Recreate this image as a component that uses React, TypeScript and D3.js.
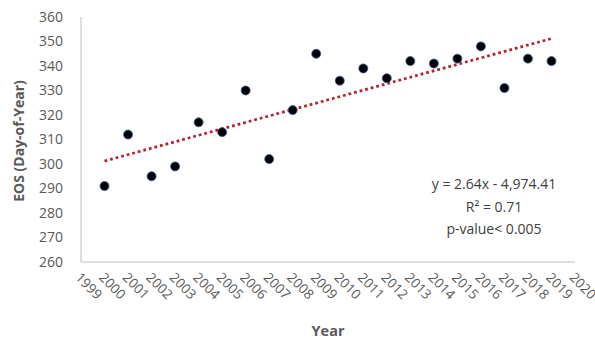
import React from "react";
import * as d3 from "d3";

const years = [2000, 2001, 2002, 2003, 2004, 2005, 2006, 2007, 2008, 2009, 2010, 2011, 2012, 2013, 2014, 2015, 2016, 2017, 2018, 2019];
const eos = [291, 312, 295, 299, 317, 313, 330, 302, 322, 345, 334, 339, 335, 342, 341, 343, 348, 331, 343, 342];
const xTicks = d3.range(1999, 2021);
const yTicks = [260, 270, 280, 290, 300, 310, 320, 330, 340, 350, 360];
const annotation = ["y = 2.64x - 4,974.41", "R² = 0.71", "p-value< 0.005"];

const W = 595, H = 341;
const L = 81, R = 575, T = 17, B = 262;
const FONT = "'Open Sans', 'Noto Sans', sans-serif";

export default function App() {
  const x = d3.scaleLinear().domain([1999, 2020]).range([L, R]);
  const y = d3.scaleLinear().domain([260, 360]).range([B, T]);

  const mx = d3.mean(years)!;
  const my = d3.mean(eos)!;
  let sxy = 0, sxx = 0;
  years.forEach((yr, i) => { sxy += (yr - mx) * (eos[i] - my); sxx += (yr - mx) ** 2; });
  const slope = sxy / sxx;
  const icpt = my - slope * mx;
  const x0 = years[0], x1 = years[years.length - 1];
  const line = d3.line<number>().x((d) => x(d)).y((d) => y(slope * d + icpt));

  return (
    <svg width={W} height={H} style={{ position: "absolute", left: 0, top: 0 }} fontFamily={FONT}>
      <rect width={W} height={H} fill="#fff" />
      <line x1={L} x2={L} y1={T} y2={B} stroke="#bfbfbf" strokeWidth={1} />
      <line x1={L} x2={R} y1={B} y2={B} stroke="#bfbfbf" strokeWidth={1} />
      {yTicks.map((t) => (
        <text key={t} x={63} y={y(t)} dy="0.35em" textAnchor="end" fontSize={14} fill="#595959">{t}</text>
      ))}
      {xTicks.map((t) => (
        <text key={t} transform={`translate(${x(t) - 3},${275}) rotate(45)`} textAnchor="start" dy="0.35em" fontSize={13.5} fill="#595959">{t}</text>
      ))}
      <path d={line([x0, x1])!} stroke="#b5212e" strokeWidth={2.75} strokeDasharray="2.75 3" fill="none" />
      {years.map((yr, i) => (
        <circle key={yr} cx={x(yr)} cy={y(eos[i])} r={4.5} fill="#000" stroke="#3a5a9a" strokeWidth={0.8} />
      ))}
      <text transform={`translate(24,141) rotate(-90)`} textAnchor="middle" fontSize={14} fontWeight="bold" fill="#595959">EOS (Day-of-Year)</text>
      <text x={328} y={336} textAnchor="middle" fontSize={14.5} fontWeight="bold" fill="#595959">Year</text>
      {annotation.map((s, i) => (
        <text key={i} x={494} y={189 + i * 22.5} textAnchor="middle" fontSize={14} fill="#404040">{s}</text>
      ))}
    </svg>
  );
}
